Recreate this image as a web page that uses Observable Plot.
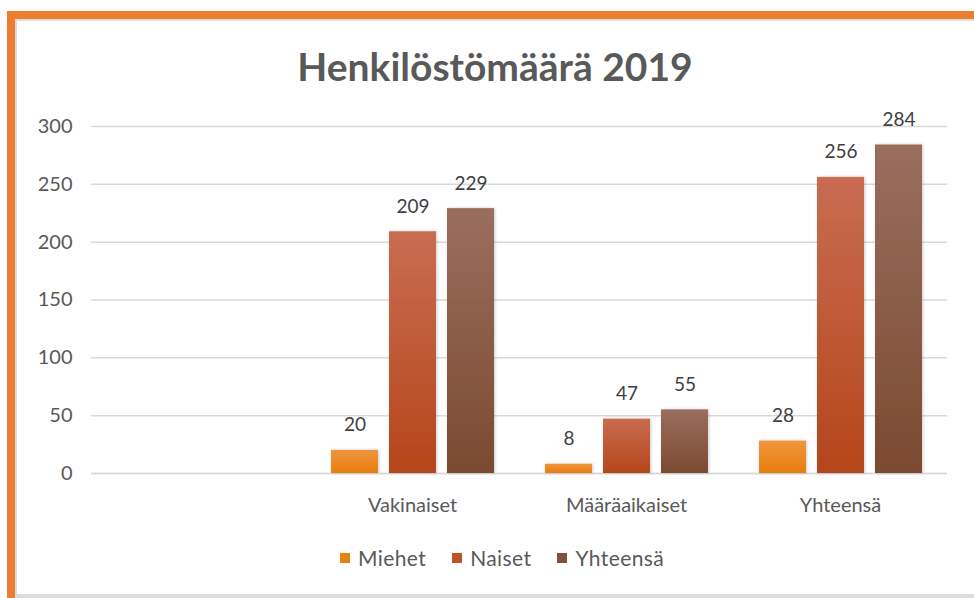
<!DOCTYPE html>
<html>
<head>
<meta charset="utf-8">
<script src="https://cdn.jsdelivr.net/npm/d3@7"></script>
<script src="https://cdn.jsdelivr.net/npm/@observablehq/plot@0.6"></script>
<style>
  html, body { margin: 0; padding: 0; background: #fff; overflow: hidden; }
  body { width: 974px; height: 598px; position: relative; font-family: Lato, "Noto Sans", sans-serif; }
  .frame { position: absolute; left: 7px; top: 11px; width: 1000px; height: 600px;
           border-left: 8px solid #ED7D31; border-top: 8px solid #ED7D31; }
  .inner { position: absolute; left: 15px; top: 19px; width: 1000px; height: 600px;
           border-left: 2px solid #dcdcdc; border-top: 2px solid #dcdcdc; }
  .bottomline { position: absolute; left: 15px; top: 594px; width: 1000px; height: 4px; background: #dcdcdc; }
  .title { position: absolute; left: 0; top: 43px; width: 990px; text-align: center;
           font: bold 39px Lato, sans-serif; color: #595959; }
  #chart { position: absolute; left: 0; top: 100px; }
  .legend { position: absolute; left: 340px; top: 545px; display: flex; align-items: center;
            font: 21px Lato, sans-serif; color: #595959; letter-spacing: 0.4px; }
  .legend .item { display: flex; align-items: center; margin-right: 26px; }
  .legend .sw { width: 10px; height: 10px; margin-right: 8px; }
</style>
</head>
<body>
<div class="frame"></div>
<div class="inner"></div>
<div class="bottomline"></div>
<div class="title">Henkilöstömäärä 2019</div>
<div id="chart"></div>
<div class="legend" id="legend"></div>
<script>
// Data
const categories = ["", "Vakinaiset", "Määräaikaiset", "Yhteensä"];
const dataCategories = ["Vakinaiset", "Määräaikaiset", "Yhteensä"];
const series = ["Miehet", "Naiset", "Yhteensä"];
const miehet = [20, 8, 28];
const naiset = [209, 47, 256];
const yhteensa = [229, 55, 284];
const yTicks = [0, 50, 100, 150, 200, 250, 300];

const seriesValues = [miehet, naiset, yhteensa];
const gradIds = ["gMiehet", "gNaiset", "gYhteensa"];
const legendColors = ["#E8820E", "#C0522A", "#84503A"];

const rows = [];
dataCategories.forEach((c, i) => {
  series.forEach((s, j) => {
    rows.push({category: c, series: s, value: seriesValues[j][i], grad: `url(#${gradIds[j]})`});
  });
});
// one baseline row per category so every facet (incl. the empty one) is drawn
const baseRows = categories.map(c => ({category: c, y: 0}));

const chart = Plot.plot({
  width: 974,
  height: 420,
  marginLeft: 90,
  marginRight: 26,
  marginTop: 26,
  marginBottom: 47,
  style: {fontFamily: "Lato, sans-serif", fontSize: "20px", color: "#595959", background: "transparent", overflow: "visible"},
  fx: {domain: categories, padding: 0, label: null, tickSize: 0, tickPadding: 24, axis: "bottom"},
  x: {domain: series, paddingInner: 0.19, paddingOuter: 0.41, axis: null},
  y: {domain: [0, 300], ticks: yTicks, label: null, tickSize: 0, tickPadding: 19},
  color: {type: "identity"},
  marks: [
    Plot.ruleY(yTicks, {stroke: "#d9d9d9", strokeWidth: 1.5}),
    Plot.ruleY(baseRows, {fx: "category", y: "y", stroke: "#d9d9d9", strokeWidth: 1.5}),
    Plot.barY(rows, {fx: "category", x: "series", y: "value", fill: "grad"}),
    Plot.text(rows, {fx: "category", x: "series", y: "value", text: d => String(d.value),
      dy: -25, fontSize: 19, fill: "#404040"})
  ]
});

// gradients + soft shadow
const svg = d3.select(chart);
svg.insert("defs", ":first-child").html(`
  <linearGradient id="gMiehet" x1="0" y1="0" x2="0" y2="1">
    <stop offset="0" stop-color="#F0953F"/><stop offset="1" stop-color="#E67E0C"/>
  </linearGradient>
  <linearGradient id="gNaiset" x1="0" y1="0" x2="0" y2="1">
    <stop offset="0" stop-color="#C96C52"/><stop offset="1" stop-color="#B5461B"/>
  </linearGradient>
  <linearGradient id="gYhteensa" x1="0" y1="0" x2="0" y2="1">
    <stop offset="0" stop-color="#9A6E5F"/><stop offset="1" stop-color="#7B4A30"/>
  </linearGradient>
  <filter id="shadow" x="-10%" y="-10%" width="130%" height="130%">
    <feDropShadow dx="1" dy="0" stdDeviation="1.5" flood-color="#000" flood-opacity="0.2"/>
  </filter>`);
svg.selectAll("rect").filter(function() { return (this.getAttribute("fill") || "").startsWith("url"); })
  .attr("filter", "url(#shadow)");
document.getElementById("chart").appendChild(chart);

// legend
const legend = document.getElementById("legend");
series.forEach((s, j) => {
  const item = document.createElement("div");
  item.className = "item";
  const sw = document.createElement("div");
  sw.className = "sw";
  sw.style.background = legendColors[j];
  const t = document.createElement("span");
  t.textContent = s;
  item.appendChild(sw);
  item.appendChild(t);
  legend.appendChild(item);
});
</script>
</body>
</html>
